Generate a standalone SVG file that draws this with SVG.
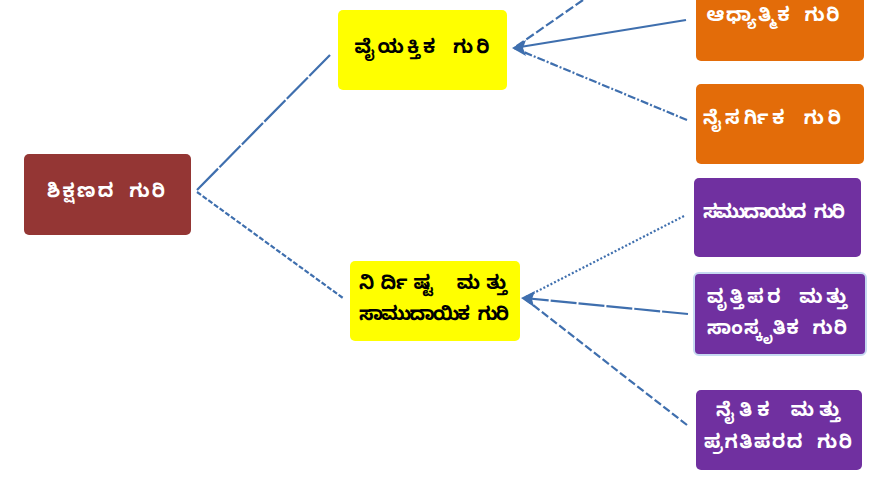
<svg xmlns="http://www.w3.org/2000/svg" width="888" height="483" viewBox="0 0 888 483">
<style>
.t{font-family:"Noto Sans Kannada","Noto Sans","DejaVu Sans",sans-serif;font-size:19px;font-weight:bold;text-anchor:middle;word-spacing:6px}
.w{fill:#ffffff}.k{fill:#000000}
.c{fill:none;stroke:#3f6fae;stroke-width:2.2}
</style>
<rect width="888" height="483" fill="#ffffff"/>
<g id="connectors">
<path class="c" d="M197,190 L330,55" stroke-dasharray="30,2"/>
<path class="c" d="M197,192 L343,298" stroke-dasharray="5,2"/>
<path class="c" d="M583,0 L514,48" stroke-dasharray="9,3"/>
<path class="c" d="M686,20 L514,48"/>
<path class="c" d="M687,120 L514,48" stroke-dasharray="8,2,2,2"/>
<path class="c" d="M684,216 L524,298" stroke-dasharray="2,2"/>
<path class="c" d="M688,314 L524,298" stroke-dasharray="26,2"/>
<path class="c" d="M687,425 L524,298" stroke-dasharray="8,3"/>
<path d="M512,48 L526,40 L523,48 L526,56 z" fill="#3f6fae"/>
<path d="M521,298 L535,291 L532,299 L534,307 z" fill="#3f6fae"/>
</g>
<g id="root">
<rect x="24" y="154" width="167" height="81" rx="5" fill="#943634"/>
<text class="t w" x="106" y="197" textLength="118">ಶಿಕ್ಷಣದ ಗುರಿ</text>
</g>
<g id="n-vaiyaktika">
<rect x="338" y="10" width="169" height="80" rx="5" fill="#ffff00"/>
<text class="t k" x="422" y="53" textLength="135">ವೈಯಕ್ತಿಕ ಗುರಿ</text>
</g>
<g id="n-nirdishta">
<rect x="350" y="261" width="170" height="80" rx="5" fill="#ffff00"/>
<text class="t k" x="433" y="289" textLength="148">ನಿರ್ದಿಷ್ಟ ಮತ್ತು</text>
<text class="t k" x="433" y="320" textLength="150">ಸಾಮುದಾಯಿಕ ಗುರಿ</text>
</g>
<g id="l-adhyatmika">
<rect x="696" y="-20" width="168" height="81" rx="5" fill="#e36c09"/>
<text class="t w" x="773" y="21" textLength="133">ಆಧ್ಯಾತ್ಮಿಕ ಗುರಿ</text>
</g>
<g id="l-naisargika">
<rect x="696" y="84" width="168" height="80" rx="5" fill="#e36c09"/>
<text class="t w" x="772" y="124" textLength="138">ನೈಸರ್ಗಿಕ ಗುರಿ</text>
</g>
<g id="l-samudaya">
<rect x="694" y="178" width="167" height="79" rx="5" fill="#7030a0"/>
<text class="t w" x="774" y="218" textLength="142">ಸಮುದಾಯದ ಗುರಿ</text>
</g>
<g id="l-vrutti">
<rect x="694" y="273" width="172" height="82" rx="5" fill="#7030a0" stroke="#c6d9f1" stroke-width="2"/>
<text class="t w" x="777" y="303" textLength="140">ವೃತ್ತಿಪರ ಮತ್ತು</text>
<text class="t w" x="777" y="334" textLength="140">ಸಾಂಸ್ಕೃತಿಕ ಗುರಿ</text>
</g>
<g id="l-naitika">
<rect x="696" y="390" width="166" height="80" rx="5" fill="#7030a0"/>
<text class="t w" x="778" y="416" textLength="124">ನೈತಿಕ ಮತ್ತು</text>
<text class="t w" x="778" y="448" textLength="148">ಪ್ರಗತಿಪರದ ಗುರಿ</text>
</g>
</svg>
